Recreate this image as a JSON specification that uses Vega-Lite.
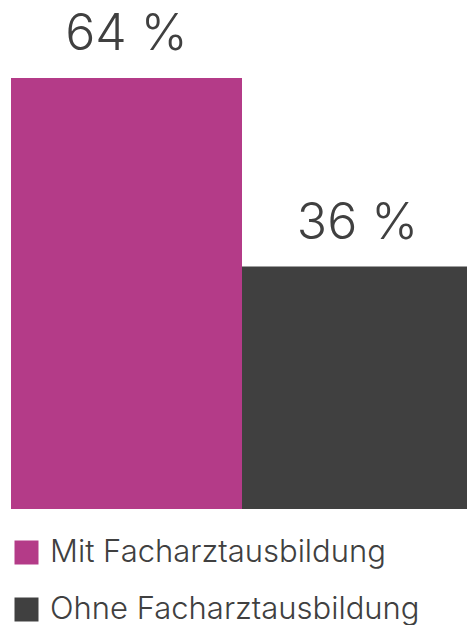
{
  "$schema": "https://vega.github.io/schema/vega-lite/v6.json",
  "width": 462,
  "height": 509,
  "autosize": "none",
  "padding": {"left": 11, "top": 0, "right": 0, "bottom": 116},
  "background": "white",
  "config": {"view": {"stroke": null}, "font": "Inter"},
  "data": {"values": [
    {"kategorie": "Mit Facharztausbildung", "wert": 64, "label": "64 %"},
    {"kategorie": "Ohne Facharztausbildung", "wert": 36, "label": "36 %"}
  ]},
  "encoding": {
    "x": {"field": "kategorie", "type": "nominal", "axis": null, "sort": null,
          "scale": {"paddingInner": 0, "paddingOuter": 0}},
    "y": {"field": "wert", "type": "quantitative", "axis": null,
          "scale": {"domain": [0, 75.6], "nice": false, "zero": true}}
  },
  "layer": [
    {
      "mark": {"type": "bar"},
      "encoding": {
        "color": {"field": "kategorie", "type": "nominal", "sort": null,
          "scale": {"domain": ["Mit Facharztausbildung", "Ohne Facharztausbildung"], "range": ["#b43b88", "#404040"]},
          "legend": {"title": null, "orient": "none", "legendX": 0, "legendY": 537, "direction": "vertical",
            "symbolType": "square", "symbolSize": 576, "symbolStrokeWidth": 0, "symbolOpacity": 1,
            "labelFont": "Inter", "labelFontWeight": 300, "labelFontSize": 31, "labelColor": "#404040",
            "labelOffset": 8, "rowPadding": 25, "labelLimit": 500}
        }
      }
    },
    {
      "mark": {"type": "text", "baseline": "alphabetic", "dy": -28, "font": "Inter", "fontWeight": 300, "fontSize": 50, "color": "#404040"},
      "encoding": {"text": {"field": "label"}}
    }
  ]
}
